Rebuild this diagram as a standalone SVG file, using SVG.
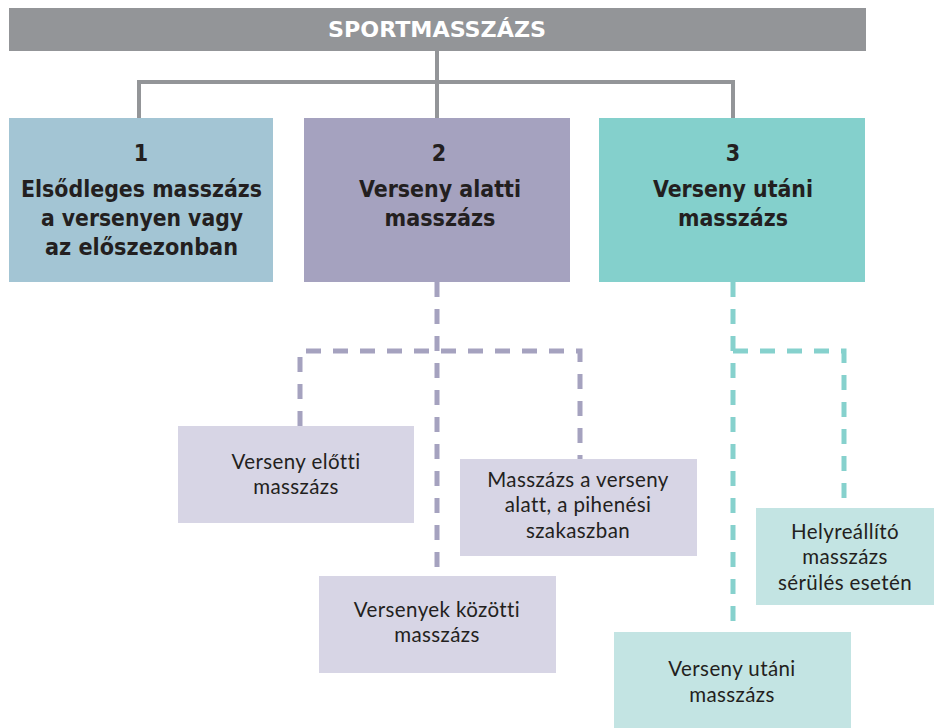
<svg xmlns="http://www.w3.org/2000/svg" width="938" height="728" viewBox="0 0 938 728">
<style>
.hd{font-family:"Liberation Sans Narrow","DejaVu Sans Condensed","Liberation Sans",sans-serif;font-weight:bold;font-stretch:condensed;fill:#231f20;text-anchor:middle}
.tt{font-family:"Liberation Sans Narrow","DejaVu Sans Condensed","Liberation Sans",sans-serif;font-weight:bold;font-stretch:condensed;fill:#ffffff;text-anchor:middle;font-size:22px}
.hb{font-size:23px}
.bd{font-family:Lato,"Open Sans",sans-serif;font-size:20.5px;fill:#231f20;text-anchor:middle;letter-spacing:0.4px}
.solid{fill:none;stroke:#939598;stroke-width:4}
.dp{fill:none;stroke:#a5a2bf;stroke-width:5;stroke-dasharray:15 12}
.dt{fill:none;stroke:#86d1cd;stroke-width:5;stroke-dasharray:15 12}
</style>
<rect width="938" height="728" fill="#ffffff"/>
<g id="connectors">
<path class="solid" d="M437 50 V118 M139 118 V82 H733 V118"/>
<path class="dp" d="M437 282 V576"/>
<path class="dp" d="M300 426 V351 H580 V459"/>
<path class="dt" d="M733 282 V632"/>
<path class="dt" d="M733 351 H844 V508"/>
</g>
<g id="root">
<rect x="9" y="8" width="857" height="43" fill="#939598"/>
<text class="tt" x="437" y="37" textLength="218" lengthAdjust="spacingAndGlyphs">SPORTMASSZÁZS</text>
</g>
<g id="n1">
<rect x="9" y="118" width="264" height="164" fill="#a3c5d4"/>
<text class="hd hb" x="141" y="161">1</text>
<text class="hd hb" x="141.5" y="197" textLength="241" lengthAdjust="spacingAndGlyphs">Elsődleges masszázs</text>
<text class="hd hb" x="142" y="226" textLength="202" lengthAdjust="spacingAndGlyphs">a versenyen vagy</text>
<text class="hd hb" x="141.5" y="255" textLength="193" lengthAdjust="spacingAndGlyphs">az előszezonban</text>
</g>
<g id="n2">
<rect x="304" y="118" width="266" height="164" fill="#a5a2bf"/>
<text class="hd hb" x="439" y="161">2</text>
<text class="hd hb" x="440" y="197" textLength="162" lengthAdjust="spacingAndGlyphs">Verseny alatti</text>
<text class="hd hb" x="440" y="226" textLength="111" lengthAdjust="spacingAndGlyphs">masszázs</text>
</g>
<g id="n3">
<rect x="599" y="118" width="266" height="164" fill="#84d0cc"/>
<text class="hd hb" x="733" y="161">3</text>
<text class="hd hb" x="733" y="197" textLength="160" lengthAdjust="spacingAndGlyphs">Verseny utáni</text>
<text class="hd hb" x="733" y="226" textLength="110" lengthAdjust="spacingAndGlyphs">masszázs</text>
</g>
<g id="n2a">
<rect x="178" y="426" width="236" height="97" fill="#d7d5e5"/>
<text class="bd" x="296" y="469">Verseny előtti</text>
<text class="bd" x="296" y="494">masszázs</text>
</g>
<g id="n2b">
<rect x="460" y="459" width="237" height="97" fill="#d7d5e5"/>
<text class="bd" x="578" y="487">Masszázs a verseny</text>
<text class="bd" x="578" y="512">alatt, a pihenési</text>
<text class="bd" x="578" y="538">szakaszban</text>
</g>
<g id="n2c">
<rect x="319" y="576" width="237" height="97" fill="#d7d5e5"/>
<text class="bd" x="437" y="617">Versenyek közötti</text>
<text class="bd" x="437" y="642">masszázs</text>
</g>
<g id="n3a">
<rect x="756" y="508" width="178" height="97" fill="#c3e4e3"/>
<text class="bd" x="845" y="539">Helyreállító</text>
<text class="bd" x="845" y="564">masszázs</text>
<text class="bd" x="845" y="590">sérülés esetén</text>
</g>
<g id="n3b">
<rect x="614" y="632" width="237" height="96" fill="#c3e4e3"/>
<text class="bd" x="732" y="676">Verseny utáni</text>
<text class="bd" x="732" y="702">masszázs</text>
</g>
</svg>
